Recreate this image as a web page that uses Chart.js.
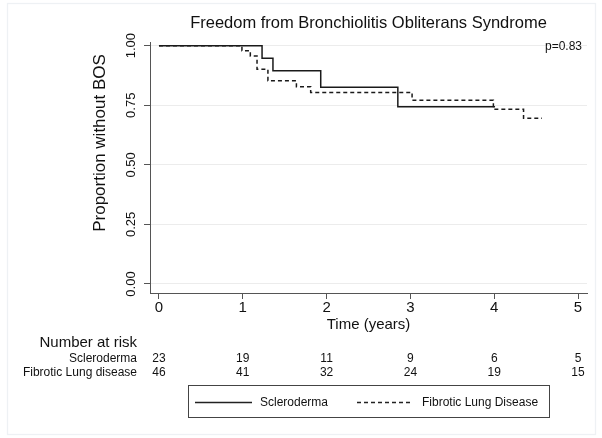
<!DOCTYPE html>
<html>
<head>
<meta charset="utf-8">
<script src="https://cdn.jsdelivr.net/npm/chart.js@4.4.1/dist/chart.umd.min.js"></script>
<style>
  body { margin: 0; background: #fff; }
  #wrap { width: 602px; height: 438px; }
</style>
</head>
<body>
<div id="wrap"><canvas id="km" width="602" height="438"></canvas></div>
<script>
// dados
const timeTicks = [0, 1, 2, 3, 4, 5];
const survTicks = [0, 0.25, 0.5, 0.75, 1];

const sclTimes = [0, 1.23, 1.36, 1.93, 2.85, 4.01];
const sclSurv  = [1, 0.947, 0.895, 0.826, 0.744, 0.744];

const fibTimes = [0, 0.99, 1.09, 1.17, 1.30, 1.64, 1.81, 3.02, 3.99, 4.35, 4.57];
const fibSurv  = [1, 0.979, 0.957, 0.901, 0.853, 0.828, 0.804, 0.771, 0.733, 0.695, 0.695];

const riskLabels = ["Scleroderma", "Fibrotic Lung disease"];
const riskScl = [23, 19, 11, 9, 6, 5];
const riskFib = [46, 41, 32, 24, 19, 15];

const FONT = '"Liberation Sans", Arial, Helvetica, sans-serif';

function pontos(ts, ss) {
  return ts.map((t, i) => ({ x: t, y: ss[i] }));
}

// textos desenhados à mão (título, tabela de risco, legenda)
const textos = {
  id: 'textos',
  afterDraw(chart) {
    const ctx = chart.ctx;
    const xs = chart.scales.x, ys = chart.scales.y;
    const area = chart.chartArea;
    ctx.save();
    ctx.fillStyle = '#111';

    // título
    ctx.font = '16.5px ' + FONT;
    ctx.textAlign = 'center';
    ctx.textBaseline = 'middle';
    ctx.fillText('Freedom from Bronchiolitis Obliterans Syndrome', (area.left + area.right) / 2, 23);

    // p valor
    ctx.font = '12px ' + FONT;
    ctx.textAlign = 'right';
    ctx.fillText('p=0.83', 582, 47);

    // ticks do eixo y (rodados)
    ctx.font = '13px ' + FONT;
    ctx.textAlign = 'center';
    survTicks.forEach(v => {
      ctx.save();
      ctx.translate(131, ys.getPixelForValue(v));
      ctx.rotate(-Math.PI / 2);
      ctx.fillText(v.toFixed(2), 0, 0);
      ctx.restore();
    });

    // título eixo y
    ctx.save();
    ctx.font = '17px ' + FONT;
    ctx.translate(100, 143);
    ctx.rotate(-Math.PI / 2);
    ctx.fillText('Proportion without BOS', 0, 0);
    ctx.restore();

    // ticks eixo x
    ctx.font = '15px ' + FONT;
    timeTicks.forEach(v => {
      ctx.fillText(String(v), xs.getPixelForValue(v), 308);
    });
    ctx.fillText('Time (years)', (area.left + area.right) / 2, 325);

    // número em risco
    ctx.textAlign = 'right';
    ctx.fillText('Number at risk', 137, 343);
    ctx.font = '12px ' + FONT;
    ctx.fillText(riskLabels[0], 137, 359);
    ctx.fillText(riskLabels[1], 137, 373);
    ctx.textAlign = 'center';
    timeTicks.forEach((v, i) => {
      const px = xs.getPixelForValue(v);
      ctx.fillText(String(riskScl[i]), px, 359);
      ctx.fillText(String(riskFib[i]), px, 373);
    });

    // legenda
    ctx.strokeStyle = '#444';
    ctx.lineWidth = 1;
    ctx.strokeRect(188.5, 385.5, 361, 32);
    ctx.strokeStyle = '#222';
    ctx.lineWidth = 1.3;
    ctx.beginPath();
    ctx.moveTo(195, 402.5); ctx.lineTo(252, 402.5);
    ctx.stroke();
    ctx.setLineDash([4, 3]);
    ctx.beginPath();
    ctx.moveTo(357, 402.5); ctx.lineTo(412, 402.5);
    ctx.stroke();
    ctx.setLineDash([]);
    ctx.textAlign = 'left';
    ctx.fillText('Scleroderma', 260, 403);
    ctx.fillText('Fibrotic Lung Disease', 422, 403);

    // moldura clara
    ctx.strokeStyle = '#eef1f4';
    ctx.strokeRect(7.5, 3.5, 588, 431);
    ctx.restore();
  }
};

const ctx = document.getElementById('km').getContext('2d');
const myChart = new Chart(ctx, {
  type: 'line',
  data: {
    datasets: [{
      label: 'Scleroderma',
      data: pontos(sclTimes, sclSurv),
      borderColor: '#1a1a1a',
      borderWidth: 1.5,
      stepped: 'before',
      pointRadius: 0,
      fill: false
    }, {
      label: 'Fibrotic Lung Disease',
      data: pontos(fibTimes, fibSurv),
      borderColor: '#1a1a1a',
      borderWidth: 1.5,
      borderDash: [4, 3],
      stepped: 'before',
      pointRadius: 0,
      fill: false
    }]
  },
  options: {
    responsive: false,
    animation: false,
    layout: { padding: { top: 42, right: 15, left: 0, bottom: 0 } },
    plugins: {
      legend: { display: false },
      title: { display: false },
      tooltip: { enabled: false }
    },
    scales: {
      x: {
        type: 'linear',
        min: -0.107,
        max: 5.107,
        afterBuildTicks: s => { s.ticks = timeTicks.map(v => ({ value: v })); },
        afterFit: s => { s.height = 145; },
        ticks: { display: false },
        grid: { drawOnChartArea: false, tickLength: 6, tickColor: '#555' },
        border: { color: '#555', width: 1 }
      },
      y: {
        type: 'linear',
        min: -0.0378,
        max: 1.0155,
        afterBuildTicks: s => { s.ticks = survTicks.map(v => ({ value: v })); },
        afterFit: s => { s.width = 150; },
        ticks: { display: false },
        grid: { color: '#ececec', tickLength: 6, tickColor: '#555' },
        border: { color: '#555', width: 1 }
      }
    }
  },
  plugins: [textos]
});
</script>
</body>
</html>
